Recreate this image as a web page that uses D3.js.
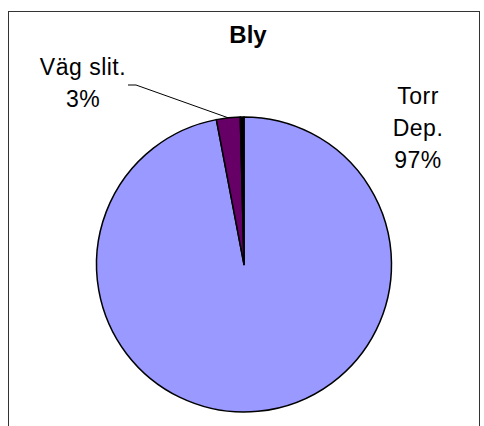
<!DOCTYPE html>
<html>
<head>
<meta charset="utf-8">
<script src="https://cdn.jsdelivr.net/npm/d3@7"></script>
<style>
  body { margin: 0; background: #fff; }
  svg { display: block; font-family: Arial, "Liberation Sans", sans-serif; }
</style>
</head>
<body>
<svg class="chart"></svg>
<script>
// dados do gráfico
var title = "Bly";
var categories = ["Torr Dep.", "Väg slit.", ""];
var values = [97.0, 2.6, 0.4];
var colors = ["#9999ff", "#660066", "#000000"];

var width = 484, height = 426;

var svg = d3.select(".chart")
   .attr("width", width)
   .attr("height", height);

// moldura
svg.append("rect")
   .attr("x", 8.5).attr("y", 11.5)
   .attr("width", 471).attr("height", 430)
   .style("fill", "none")
   .style("stroke", "#333")
   .style("stroke-width", 1);

svg.append("text")
   .attr("x", 248).attr("y", 43)
   .attr("text-anchor", "middle")
   .style("font-size", "24px")
   .style("font-weight", "bold")
   .text(title);

var cx = 244, cy = 264.5, r = 147.5;

var pie = d3.pie().sort(null).value(function(d) { return d; });
var arc = d3.arc().innerRadius(0).outerRadius(r);

var g = svg.append("g")
   .attr("transform", "translate(" + cx + "," + cy + ")");

var arcs = pie(values);

g.selectAll("path")
   .data(arcs)
   .enter().append("path")
   .attr("d", arc)
   .style("fill", function(d, i) { return colors[i]; })
   .style("stroke", "#000")
   .style("stroke-width", 1.5)
   .style("stroke-linejoin", "round");

// rótulos
var total = d3.sum(values);
var labelPos = [[418, 104], [83, 75]];
[0, 1].forEach(function(i) {
   var words = categories[i].split(" ");
   if (i === 1) words = [categories[i]];
   var lines = words.concat([Math.round(values[i] / total * 100) + "%"]);
   var t = svg.append("text")
      .attr("text-anchor", "middle")
      .style("font-size", "23px")
      .style("letter-spacing", "0.5px");
   lines.forEach(function(l, k) {
      t.append("tspan")
         .attr("x", labelPos[i][0])
         .attr("y", labelPos[i][1] + k * 32)
         .text(l);
   });
});

// linha guia para "Väg slit."
var mid = (arcs[1].startAngle + arcs[1].endAngle) / 2;
var edge = [cx + Math.sin(mid) * r, cy - Math.cos(mid) * r];
svg.append("polyline")
   .attr("points", [[128, 85], [136, 85], edge].join(" "))
   .style("fill", "none")
   .style("stroke", "#000")
   .style("stroke-width", 1);
</script>
</body>
</html>
